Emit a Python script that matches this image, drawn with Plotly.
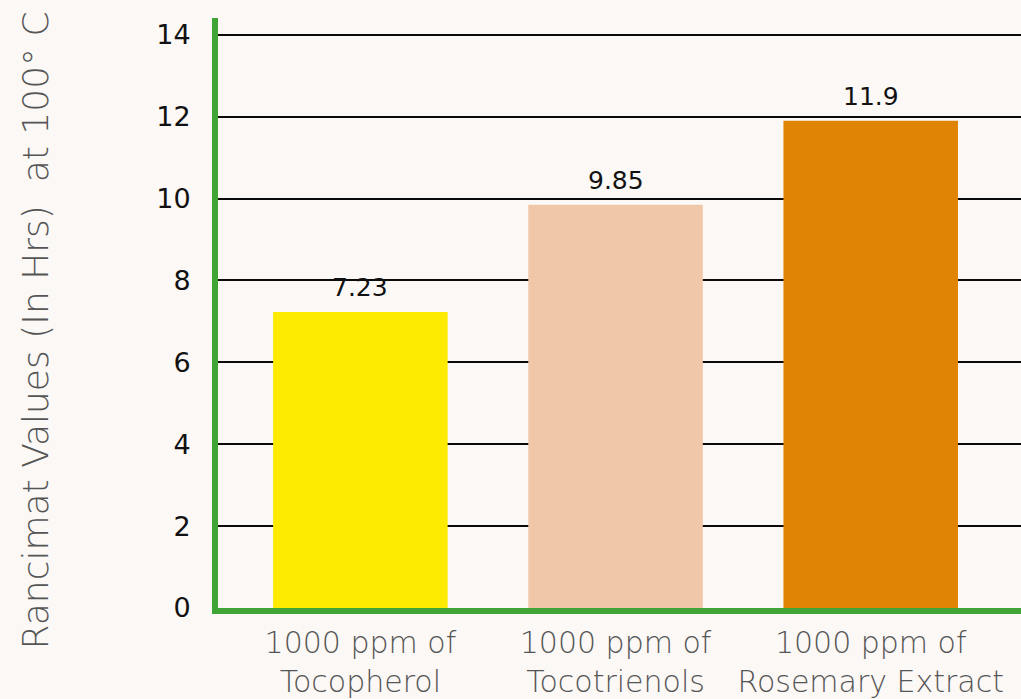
import plotly.graph_objects as go

categories = ["1000 ppm of<br>Tocopherol", "1000 ppm of<br>Tocotrienols", "1000 ppm of<br>Rosemary Extract"]
values = [7.23, 9.85, 11.9]
value_labels = ["7.23", "9.85", "11.9"]
bar_colors = ["#FCEA00", "#F0C8A9", "#E08405"]
y_ticks = [0, 2, 4, 6, 8, 10, 12, 14]
y_title = "Rancimat Values (In Hrs)  at 100° C"

xpos = list(range(len(categories)))
GREEN = "#41A535"
FONT = "DejaVu Sans"

fig = go.Figure()
fig.add_trace(go.Bar(
    x=xpos, y=values, width=0.684,
    marker=dict(color=bar_colors, line=dict(width=0)),
    hoverinfo="skip", showlegend=False,
))

for xi, v, t in zip(xpos, values, value_labels):
    fig.add_annotation(x=xi, y=v, text=t, showarrow=False, yanchor="bottom", yshift=8,
                       font=dict(family=FONT, size=25, color="#111111"))

fig.add_annotation(xref="paper", yref="paper", x=-0.227, y=0.47, text=y_title,
                   textangle=-90, showarrow=False, xanchor="center", yanchor="middle",
                   font=dict(family=FONT, size=36, color="#555555", weight=200))

fig.update_layout(
    width=1021, height=699,
    margin=dict(l=218, r=0, t=18, b=89),
    paper_bgcolor="#FBF8F6",
    plot_bgcolor="rgba(0,0,0,0)",
    bargap=0.3,
    xaxis=dict(
        range=[-0.558, 2.589], tickvals=xpos, ticktext=categories,
        showgrid=False, zeroline=False,
        showline=True, linecolor=GREEN, linewidth=6,
        ticks="", ticklabelstandoff=3,
        tickfont=dict(family=FONT, size=30, color="#555555", weight=200),
        fixedrange=True,
    ),
    yaxis=dict(
        range=[0, 14.41], tickvals=y_ticks,
        showgrid=True, gridcolor="#0A0A0A", gridwidth=2,
        zeroline=False,
        showline=True, linecolor=GREEN, linewidth=6,
        ticks="", ticklabelstandoff=16,
        tickfont=dict(family=FONT, size=27, color="#111111"),
        fixedrange=True,
    ),
)

fig.write_html("out.html", config={"displayModeBar": False},
               post_script="document.body.style.margin='0';document.body.style.overflow='hidden';")
